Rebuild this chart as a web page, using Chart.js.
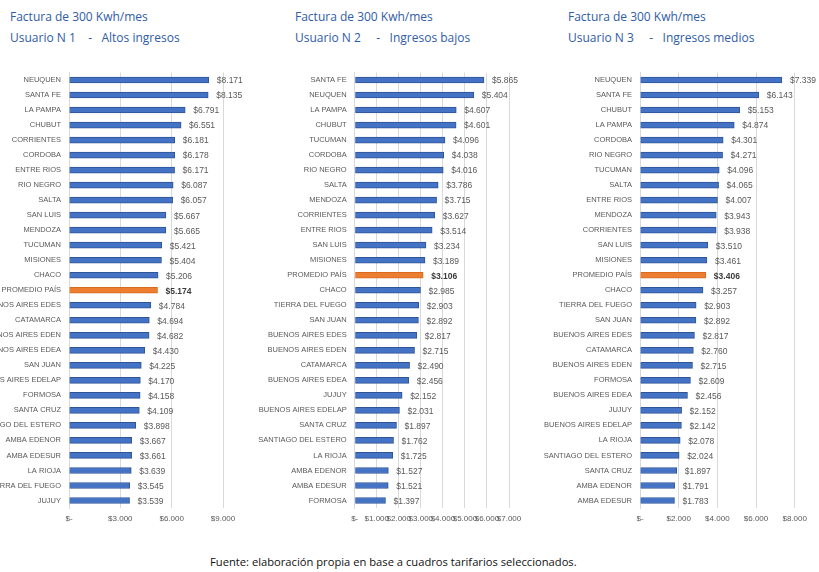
<!DOCTYPE html>
<html>
<head>
<meta charset="utf-8">
<script src="https://cdn.jsdelivr.net/npm/chart.js@4.4.1/dist/chart.umd.min.js"></script>
<style>
  body { margin: 0; width: 819px; height: 572px; background: #fff; position: relative; overflow: hidden; font-family: "Open Sans", sans-serif; }
  .titulo { position: absolute; top: 6px; color: #2f5ca6; font-size: 12px; line-height: 21px; white-space: pre; }
  canvas { position: absolute; top: 60px; }
  #fuente { position: absolute; left: 210px; top: 554px; font-size: 11.2px; color: #111; }
</style>
</head>
<body>
<div class="titulo" style="left:10px">Factura de 300 Kwh/mes
Usuario N 1    -   Altos ingresos</div>
<div class="titulo" style="left:295px">Factura de 300 Kwh/mes
Usuario N 2     -   Ingresos bajos</div>
<div class="titulo" style="left:568px">Factura de 300 Kwh/mes
Usuario N 3     -   Ingresos medios</div>

<canvas id="panel1" width="265" height="480" style="left:0px"></canvas>
<canvas id="panel2" width="297" height="480" style="left:248px"></canvas>
<canvas id="panel3" width="289" height="480" style="left:530px"></canvas>

<div id="fuente">Fuente: elaboración propia en base a cuadros tarifarios seleccionados.</div>

<script>
// Usuario 1 - altos ingresos
const provincias1 = ['NEUQUEN', 'SANTA FE', 'LA PAMPA', 'CHUBUT', 'CORRIENTES', 'CORDOBA', 'ENTRE RIOS',
  'RIO NEGRO', 'SALTA', 'SAN LUIS', 'MENDOZA', 'TUCUMAN', 'MISIONES', 'CHACO', 'PROMEDIO PAÍS',
  'BUENOS AIRES EDES', 'CATAMARCA', 'BUENOS AIRES EDEN', 'BUENOS AIRES EDEA', 'SAN JUAN',
  'BUENOS AIRES EDELAP', 'FORMOSA', 'SANTA CRUZ', 'SANTIAGO DEL ESTERO', 'AMBA EDENOR',
  'AMBA EDESUR', 'LA RIOJA', 'TIERRA DEL FUEGO', 'JUJUY'];
const factura1 = [8171, 8135, 6791, 6551, 6181, 6178, 6171, 6087, 6057, 5667, 5665, 5421, 5404, 5206, 5174,
  4784, 4694, 4682, 4430, 4225, 4170, 4158, 4109, 3898, 3667, 3661, 3639, 3545, 3539];

// Usuario 2 - ingresos bajos
const provincias2 = ['SANTA FE', 'NEUQUEN', 'LA PAMPA', 'CHUBUT', 'TUCUMAN', 'CORDOBA', 'RIO NEGRO',
  'SALTA', 'MENDOZA', 'CORRIENTES', 'ENTRE RIOS', 'SAN LUIS', 'MISIONES', 'PROMEDIO PAÍS', 'CHACO',
  'TIERRA DEL FUEGO', 'SAN JUAN', 'BUENOS AIRES EDES', 'BUENOS AIRES EDEN', 'CATAMARCA',
  'BUENOS AIRES EDEA', 'JUJUY', 'BUENOS AIRES EDELAP', 'SANTA CRUZ', 'SANTIAGO DEL ESTERO',
  'LA RIOJA', 'AMBA EDENOR', 'AMBA EDESUR', 'FORMOSA'];
const factura2 = [5865, 5404, 4607, 4601, 4096, 4038, 4016, 3786, 3715, 3627, 3514, 3234, 3189, 3106, 2985,
  2903, 2892, 2817, 2715, 2490, 2456, 2152, 2031, 1897, 1762, 1725, 1527, 1521, 1397];

// Usuario 3 - ingresos medios
const provincias3 = ['NEUQUEN', 'SANTA FE', 'CHUBUT', 'LA PAMPA', 'CORDOBA', 'RIO NEGRO', 'TUCUMAN',
  'SALTA', 'ENTRE RIOS', 'MENDOZA', 'CORRIENTES', 'SAN LUIS', 'MISIONES', 'PROMEDIO PAÍS', 'CHACO',
  'TIERRA DEL FUEGO', 'SAN JUAN', 'BUENOS AIRES EDES', 'CATAMARCA', 'BUENOS AIRES EDEN', 'FORMOSA',
  'BUENOS AIRES EDEA', 'JUJUY', 'BUENOS AIRES EDELAP', 'LA RIOJA', 'SANTIAGO DEL ESTERO',
  'SANTA CRUZ', 'AMBA EDENOR', 'AMBA EDESUR'];
const factura3 = [7339, 6143, 5153, 4874, 4301, 4271, 4096, 4065, 4007, 3943, 3938, 3510, 3461, 3406, 3257,
  2903, 2892, 2817, 2760, 2715, 2609, 2456, 2152, 2142, 2078, 2024, 1897, 1791, 1783];

// escalas del eje de pesos
const ejeMax = [9000, 7000, 8000];
const ejePaso = [3000, 1000, 2000];

const PROMEDIO = 'PROMEDIO PAÍS';
const fuenteChica = '"Liberation Sans", Arial, sans-serif';

function formatoPesos(v) {
  if (v === 0) return '$-';
  return '$' + String(v).replace(/\B(?=(\d{3})+(?!\d))/g, '.');
}

// dibuja el importe al final de cada barra
const etiquetasValor = {
  id: 'etiquetasValor',
  afterDatasetsDraw(chart) {
    const ctx = chart.ctx;
    const datos = chart.data.datasets[0].data;
    ctx.save();
    ctx.textAlign = 'left';
    ctx.textBaseline = 'middle';
    chart.getDatasetMeta(0).data.forEach((barra, i) => {
      const destacado = chart.data.labels[i] === PROMEDIO;
      ctx.font = (destacado ? 'bold ' : '') + '8.5px ' + fuenteChica;
      ctx.fillStyle = destacado ? '#3a3a3a' : '#595959';
      ctx.fillText(formatoPesos(datos[i]), barra.x + 8, barra.y + 1);
    });
    ctx.restore();
  }
};

function crearPanel(id, provincias, valores, maximo, paso, anchoEje, margenDer) {
  new Chart(document.getElementById(id), {
    type: 'bar',
    data: {
      labels: provincias,
      datasets: [{
        data: valores,
        backgroundColor: provincias.map(p => p === PROMEDIO ? '#ed7d31' : '#4472c4'),
        borderColor: provincias.map(p => p === PROMEDIO ? '#d86a20' : '#2f5597'),
        borderWidth: 1,
        barThickness: 6
      }]
    },
    options: {
      indexAxis: 'y',
      responsive: false,
      animation: false,
      layout: { padding: { top: 8, right: margenDer, left: 0, bottom: 0 } },
      plugins: { legend: { display: false }, tooltip: { enabled: false } },
      scales: {
        x: {
          min: 0,
          max: maximo,
          ticks: {
            stepSize: paso,
            autoSkip: false,
            maxRotation: 0,
            padding: 6,
            color: '#595959',
            font: { size: 8, family: fuenteChica },
            callback: v => formatoPesos(v)
          },
          grid: { color: '#d9d9d9', drawTicks: false },
          border: { display: false },
          afterFit: s => { s.height = 32; }
        },
        y: {
          ticks: {
            autoSkip: false,
            padding: 8,
            color: '#595959',
            font: { size: 7.5, family: fuenteChica }
          },
          grid: { display: false, drawTicks: false },
          border: { color: '#d9d9d9' },
          afterFit: s => { s.width = anchoEje; }
        }
      }
    },
    plugins: [etiquetasValor]
  });
}

crearPanel('panel1', provincias1, factura1, ejeMax[0], ejePaso[0], 69, 42);
crearPanel('panel2', provincias2, factura2, ejeMax[1], ejePaso[1], 106.7, 36);
crearPanel('panel3', provincias3, factura3, ejeMax[2], ejePaso[2], 110, 24.3);
</script>
</body>
</html>
